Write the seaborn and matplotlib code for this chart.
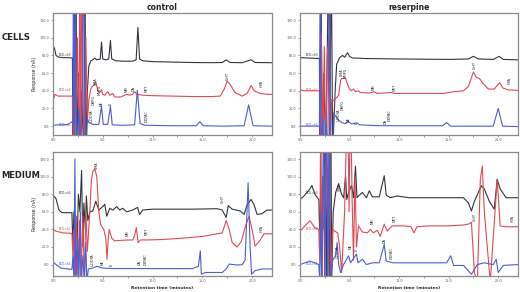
import matplotlib
matplotlib.use("Agg")
import matplotlib.pyplot as plt
import pandas as pd
import seaborn as sns

# chromatogram traces: (retention time in min, response in nA)
cells_ctrl_black = [(0, 91), (0.15, 88), (0.3, 80), (0.6, 78), (1.0, 77.5), (1.5, 77.5), (1.95, 77),
                    (2.02, -30), (2.1, 200), (2.2, -30), (2.3, 200), (2.4, -30), (2.55, 60), (2.7, -30),
                    (2.85, 40), (3.1, -30), (3.2, 200), (3.3, -30), (3.45, 40), (3.6, 68), (3.8, 74),
                    (4.0, 75), (4.2, 77), (4.4, 75), (4.75, 76), (4.87, 95), (5.0, 76), (5.3, 75),
                    (5.6, 76), (5.77, 97), (5.9, 76), (6.3, 74), (7.0, 73.5), (8.0, 73.5), (8.35, 75),
                    (8.53, 111.5), (8.7, 76), (9.0, 74), (10, 73), (12, 72.5), (14, 72), (16, 71.8),
                    (17.0, 72), (17.4, 75), (17.8, 72), (19.0, 71.8), (19.9, 75), (20.3, 72), (22, 71.8)]
cells_ctrl_red = [(0, 29), (0.2, 36), (0.5, 34), (1.0, 34), (1.95, 34), (2.05, -30), (2.15, 105),
                  (2.3, 10), (2.45, 100), (2.6, -30), (2.7, 200), (2.8, -30), (2.9, 200), (3.0, 40),
                  (3.15, -30), (3.3, 100), (3.45, 5), (3.6, 30), (3.8, 42), (3.95, 45), (4.1, 46),
                  (4.3, 50), (4.5, 40), (4.7, 38), (4.87, 41), (5.0, 36), (5.2, 35), (5.5, 39),
                  (5.7, 35), (6.0, 37), (6.2, 33), (6.8, 33), (7.4, 36), (7.7, 35), (8.0, 36),
                  (8.2, 39), (8.4, 36), (9.0, 35), (10, 34.5), (12, 34), (14, 33.5), (16, 33.5),
                  (16.8, 34), (17.2, 42), (17.5, 51), (17.8, 47), (18.3, 38), (19, 34), (19.5, 37),
                  (19.9, 46), (20.2, 40), (20.8, 37), (21.5, 36), (22, 36)]
cells_ctrl_blue = [(0, 1), (0.5, 1.5), (1.0, 1.5), (1.5, 2), (1.9, 5), (2.0, 3), (2.05, 200),
                   (2.15, -30), (2.25, 200), (2.35, -30), (2.6, 20), (2.75, -30), (2.9, 10),
                   (3.15, 200), (3.25, -30), (3.35, -30), (3.45, 9), (3.6, 4), (4.0, 2), (4.6, 2),
                   (4.87, 22.6), (5.05, 2), (5.5, 2), (5.77, 22.6), (5.95, 1.5), (7, 1), (8.2, 1.5),
                   (8.47, 40.7), (8.75, 3), (9.2, 1), (12, 0.5), (14.4, 0.5), (14.75, 5), (15.1, 0.5),
                   (17, 0), (19.2, 0.5), (19.65, 24), (20.1, 0.5), (22, 0)]

cells_res_black = [(0, 77.6), (1.0, 77), (1.96, 76.5), (2.0, -30), (2.1, 200), (2.25, -30), (2.4, 60),
                   (2.6, -30), (2.9, 200), (3.0, -30), (3.15, 200), (3.3, -30), (3.55, 40), (3.7, 70),
                   (4.0, 77.6), (4.3, 80), (4.5, 78), (4.8, 83), (5.0, 79), (5.3, 77), (5.8, 77),
                   (6.5, 76.5), (10, 76), (15, 75.5), (17.0, 76), (17.5, 79), (18, 76), (19.5, 75.5),
                   (20.1, 79), (20.5, 75.5), (22, 75)]
cells_res_red = [(0, 41.4), (0.3, 40), (1.0, 40), (1.96, 40), (2.05, -30), (2.15, 105), (2.3, -30),
                 (2.45, 90), (2.6, -30), (2.75, 80), (2.9, 99), (3.05, -30), (3.2, 30), (3.4, 29),
                 (3.6, 31), (3.9, 35), (4.1, 52), (4.2, 54), (4.6, 54), (4.8, 47), (5.0, 42),
                 (5.2, 40), (5.4, 42), (5.6, 39), (5.9, 40), (6.1, 38), (7.0, 37.5), (7.5, 39),
                 (7.8, 37), (9.2, 38), (9.5, 37), (12, 37), (14.5, 37), (15.5, 39), (16.5, 40),
                 (17.0, 45), (17.5, 61.4), (17.8, 55), (18.1, 54), (18.5, 48), (19.0, 42), (19.6, 42),
                 (20.15, 49), (20.5, 43), (21.0, 41), (22, 40.5)]
cells_res_blue = [(0, 0), (1.0, 0), (1.96, 0), (2.05, 200), (2.15, -30), (2.3, 10), (2.4, -30),
                  (2.6, 5), (2.8, -30), (3.0, 200), (3.1, -30), (3.3, -30), (3.4, 15), (3.55, 12),
                  (3.8, 8), (4.2, 4), (4.6, 3), (4.87, 5.5), (5.2, 2.5), (5.75, 3.8), (6.0, 1.5),
                  (8, 0.5), (14.4, 0.5), (14.8, 4), (15.2, 0), (19.5, 0), (20.0, 20), (20.45, 0),
                  (22, -0.5)]

medium_ctrl_black = [(0, 79), (0.3, 75), (0.6, 62), (0.9, 59), (1.9, 59), (2.0, 20), (2.1, 60),
                     (2.2, 40), (2.35, -10), (2.55, 80), (2.7, 60), (2.87, 107), (3.0, 20), (3.1, 70),
                     (3.25, 40), (3.35, 78), (3.5, 50), (3.7, 60), (4.0, 61), (4.3, 72), (4.6, 62),
                     (5.0, 66), (5.2, 68.6), (5.4, 55), (5.7, 64), (6.0, 62), (6.4, 66), (6.7, 62),
                     (7.0, 64), (7.4, 60), (8.0, 62), (8.5, 65), (8.7, 57), (9.0, 62), (10, 63),
                     (14, 63), (16.5, 63.5), (17.0, 62), (17.4, 53.5), (17.6, 67), (18.0, 63),
                     (18.8, 61), (19.2, 57), (19.5, 68), (19.9, 74), (20.2, 68), (20.5, 57), (21, 58),
                     (21.5, 62), (22, 62)]
medium_ctrl_red = [(0, 40), (0.3, 38), (1.0, 36), (1.9, 35.5), (2.0, 10), (2.1, 40), (2.2, -20),
                   (2.35, 55), (2.5, -20), (2.65, 50), (2.8, -20), (3.0, 55), (3.15, -20), (3.3, 60),
                   (3.45, 15), (3.7, 60), (3.85, 95), (4.0, 106), (4.2, 108.6), (4.4, 100), (4.6, 60),
                   (4.8, 45), (5.1, 40), (5.3, 30), (5.43, 6), (5.55, 30), (5.65, 40), (5.9, 30),
                   (6.2, 27), (7.0, 27.7), (8.0, 28), (8.2, 33), (8.37, 42), (8.55, 25), (8.8, 28),
                   (9.5, 28), (11, 28.5), (13, 30), (15, 32), (16.5, 35), (17.0, 36), (17.4, 50),
                   (17.7, 40), (18.0, 25), (18.5, 20), (18.9, 26), (19.4, 46), (19.7, 55), (20.0, 40),
                   (20.3, 21), (20.7, 26), (21.2, 35), (22, 35)]
medium_ctrl_blue = [(0, 3), (0.3, 0), (0.8, -4), (1.5, -5), (1.9, -5.5), (2.0, 10), (2.1, -20),
                    (2.2, 120), (2.3, -20), (2.5, 30), (2.6, -20), (2.75, 60), (2.85, -20), (3.0, 10),
                    (3.15, -20), (3.3, 25), (3.4, -20), (3.55, -5), (4.0, -4), (4.4, -2), (5.0, -4),
                    (6, -4.5), (14, -4.6), (14.6, -2), (14.8, 15.6), (14.9, -11), (15.3, -9), (17, -9),
                    (17.4, -5), (17.7, 0.5), (18.5, -0.5), (19.0, -0.2), (19.3, 5), (19.6, 93),
                    (19.8, 20), (19.95, -11), (20.3, -7), (21, -5), (22, -5)]

medium_res_black = [(0, 74), (0.4, 78), (1.0, 86), (1.2, 90), (1.5, 80), (1.9, 74), (2.0, 30),
                    (2.1, 90), (2.2, -20), (2.3, 100), (2.4, 40), (2.55, 200), (2.65, -20), (2.8, 110),
                    (2.95, -20), (3.1, 200), (3.2, -20), (3.35, 60), (3.6, 82), (3.9, 92), (4.2, 80),
                    (4.4, 76), (4.6, 101), (4.72, 74), (4.9, 82), (5.2, 90), (5.4, 76), (5.6, 112),
                    (5.75, 76), (5.9, 78), (6.3, 82), (6.7, 76), (7.0, 84), (7.3, 77), (8.0, 77),
                    (8.5, 101), (8.7, 79), (9.1, 76), (9.8, 78), (11, 76), (15, 76), (16.5, 76),
                    (17.0, 70), (17.3, 61), (17.6, 72), (18.3, 89.6), (18.6, 86), (19.1, 72),
                    (19.6, 63), (19.9, 97), (20.2, 86), (20.8, 76), (22, 76)]
medium_res_red = [(0, 38), (0.5, 44), (1.0, 50), (1.5, 42), (1.9, 40), (2.0, 0), (2.1, 200),
                  (2.2, -20), (2.35, 100), (2.5, -20), (2.7, 200), (2.8, -20), (3.0, 200), (3.1, -20),
                  (3.3, 40), (3.5, 38), (3.8, 36), (4.0, 20), (4.2, -9), (4.5, 60), (4.8, 200),
                  (4.95, 60), (5.1, 200), (5.25, 80), (5.4, 5), (5.55, 101), (5.7, 20), (5.9, 44),
                  (6.3, 37), (6.8, 36), (7.1, 40), (7.4, 36), (7.8, 39), (8.1, 32), (8.5, 46),
                  (8.8, 38), (9.3, 44), (10.5, 44), (11.2, 43), (11.5, 36), (11.8, 43), (13, 44),
                  (15, 44), (16.5, 45), (17.0, 46), (17.3, 48), (17.6, -9), (17.9, -20), (18.2, 97),
                  (18.4, 112), (18.6, 60), (19.2, -20), (19.9, 97), (20.2, 44), (20.8, 43), (22, 43)]
medium_res_blue = [(0, 0), (0.5, 2), (1.0, 4), (1.5, 2), (1.9, 0), (2.0, -20), (2.1, 60), (2.2, -20),
                   (2.4, 200), (2.5, -20), (2.7, 200), (2.8, -20), (2.95, 200), (3.05, -20), (3.3, 5),
                   (3.6, 10), (3.75, 25), (3.9, 0), (4.1, -9), (4.4, 0), (4.9, 10), (5.1, 2),
                   (5.7, 12), (5.85, 2), (6.3, 6), (6.7, 0), (7.3, 2), (8.0, 2), (8.5, 23), (8.7, 4),
                   (9.4, 2), (12, 2), (14.8, 2), (15.2, 10), (15.5, -1), (16.5, -1), (17.3, -11),
                   (17.9, 0), (18.6, 2), (19.5, 0), (19.8, 6), (20.0, -9), (20.5, -1), (22, 0)]

# peak names: (name, time, height where the label starts)
cells_ctrl_peaks = [("L-DOPA", 3.9, 5), ("DHPG", 4.13, 24), ("VMA", 4.3, 46), ("MHPG", 4.7, 35),
                    ("NE", 4.87, 23), ("E", 5.77, 24), ("NM", 7.37, 39), ("DA", 8.1, 40),
                    ("MET", 9.37, 39), ("DOPAC", 9.37, 5), ("5-HT", 17.6, 52), ("HVA", 21.0, 44)]
cells_res_peaks = [("VMA", 4.2, 57), ("MHPG", 4.57, 55), ("L-DOPA", 3.9, 6), ("DHPG", 4.3, 18),
                   ("NE", 4.87, 5), ("E", 5.75, 3), ("NM", 7.45, 41), ("MET", 9.5, 40),
                   ("DA", 8.6, 3), ("DOPAC", 9.0, 6), ("5-HT", 17.6, 65), ("HVA", 21.2, 48)]
medium_ctrl_peaks = [("VMA", 4.37, 109), ("NM", 7.53, 32), ("MET", 9.37, 34), ("5-HT", 17.1, 70),
                     ("HVA", 21.0, 37), ("L-DOPA", 4.03, -2), ("NE", 5.0, -1), ("E", 5.87, -2),
                     ("DA", 8.7, 0), ("DOPAC", 9.3, 0)]
medium_res_peaks = [("VMA", 4.0, 84), ("NM", 7.3, 46), ("MET", 9.5, 48), ("5-HT", 17.6, 49),
                    ("HVA", 21.5, 48), ("L-DOPA", 3.8, 7), ("NE", 5.1, 18), ("E", 5.7, 15),
                    ("DA", 8.5, 24), ("DOPAC", 9.2, 6)]

channel_tags = ["ECD-ch3", "ECD-ch2", "ECD-ch1"]
channel_levels = [80, 40, 0]
x_ticks = [0, 5, 10, 15, 20]
y_ticks = [0, 20, 40, 60, 80, 100, 120]

trace_colors = ["#34343f", "#e04a55", "#4d5fd0"]

sns.set_theme(style="white")
plt.rcParams["font.family"] = ["DejaVu Sans"]

fig = plt.figure(figsize=(5.2, 2.92), dpi=100)
ax_tl = fig.add_axes([53 / 520, 157 / 292, 219 / 520, 122 / 292])
ax_tr = fig.add_axes([300 / 520, 157 / 292, 218 / 520, 122 / 292])
ax_bl = fig.add_axes([53 / 520, 16 / 292, 219 / 520, 124 / 292])
ax_br = fig.add_axes([300 / 520, 16 / 292, 218 / 520, 124 / 292])

panels = [
    (ax_tl, [cells_ctrl_black, cells_ctrl_red, cells_ctrl_blue], cells_ctrl_peaks, (-10, 128)),
    (ax_tr, [cells_res_black, cells_res_red, cells_res_blue], cells_res_peaks, (-10, 128)),
    (ax_bl, [medium_ctrl_black, medium_ctrl_red, medium_ctrl_blue], medium_ctrl_peaks, (-13, 128)),
    (ax_br, [medium_res_black, medium_res_red, medium_res_blue], medium_res_peaks, (-13, 128)),
]

for ax, traces, peaks, ylim in panels:
    for trace, col in zip(traces, trace_colors):
        df = pd.DataFrame(trace, columns=["time", "response"])
        sns.lineplot(data=df, x="time", y="response", ax=ax, color=col, lw=0.8,
                     sort=False, estimator=None)
    for tag, lev, col in zip(channel_tags, channel_levels, trace_colors):
        ax.text(0.6, lev + 1, tag, fontsize=2.2, color=col, va="center")
    for name, t, h in peaks:
        ax.text(t, h, name, fontsize=2.4, rotation=90, ha="center", va="bottom", color="#222222")
    ax.set_xlim(0, 22)
    ax.set_ylim(*ylim)
    ax.set_xticks(x_ticks)
    ax.set_xticks([2.5, 7.5, 12.5, 17.5], minor=True)
    ax.set_xticklabels([f"{v:.1f}" for v in x_ticks])
    ax.set_yticks(y_ticks)
    ax.set_yticklabels([f"{v:.1f}" for v in y_ticks])
    ax.tick_params(axis="both", which="both", labelsize=2.4, colors="#555555", length=1.5,
                   width=0.4, pad=1, direction="out", bottom=True, left=True)
    ax.set_xlabel("")
    ax.set_ylabel("")
    for sp in ax.spines.values():
        sp.set_color("#8a8a8a")
        sp.set_linewidth(0.9)

ax_tl.set_title("control", fontsize=5.5, fontweight="bold", pad=2)
ax_tr.set_title("reserpine", fontsize=5.5, fontweight="bold", pad=2)
for ax in (ax_tl, ax_bl):
    ax.set_ylabel("Response (nA)", fontsize=3.4, labelpad=2)
for ax in (ax_bl, ax_br):
    ax.set_xlabel("Retention time (minutes)", fontsize=3.2, fontweight="bold", labelpad=2)

fig.text(16 / 520, 1 - 37 / 292, "CELLS", fontsize=6.2, fontweight="bold", ha="center", va="center")
fig.text(21 / 520, 1 - 176 / 292, "MEDIUM", fontsize=6.0, fontweight="bold", ha="center", va="center")

fig.savefig("out.png", dpi=100)
